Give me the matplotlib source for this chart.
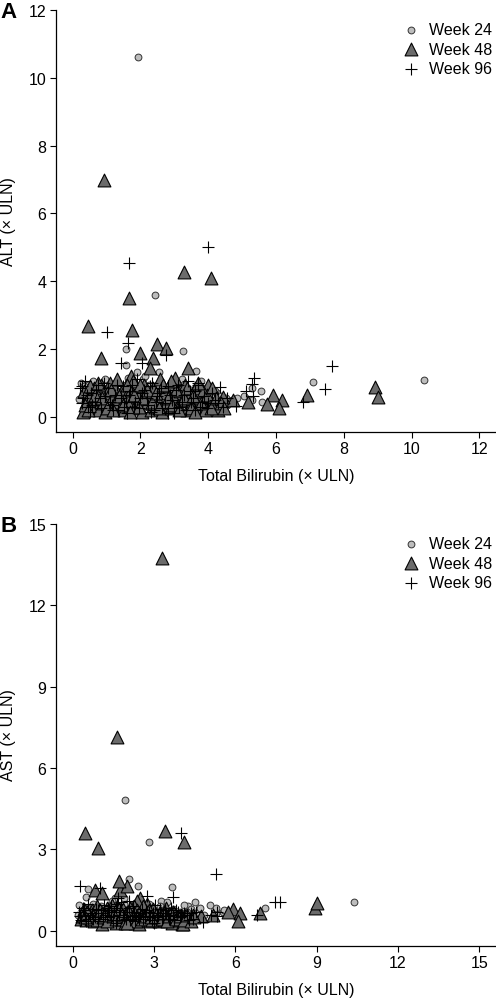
import matplotlib
matplotlib.use('Agg')
import matplotlib.pyplot as plt

plt.rcParams['font.family'] = ['Liberation Sans', 'DejaVu Sans']

# Week 24 (circles): bilirubin, ALT, AST (x ULN)
w24_bili = [1.93, 2.42, 1.57, 3.25, 1.57, 3.65, 2.54, 1.90, 2.83, 2.09, 0.56, 0.49,
            7.10, 10.37, 5.55, 5.28, 4.25, 4.52, 5.07, 5.30, 5.60,
            0.20, 0.25, 0.30, 0.38, 0.45, 0.52, 0.60, 0.68, 0.75, 0.82, 0.90, 0.98,
            1.05, 1.12, 1.20, 1.28, 1.35, 1.45, 1.55, 1.62, 1.70, 1.80, 1.88, 1.95,
            2.05, 2.15, 2.22, 2.32, 2.40, 2.50, 2.60, 2.70, 2.80, 2.90, 3.00, 3.12,
            3.22, 3.35, 3.48, 3.58, 3.70, 3.82, 3.95, 4.10, 4.35, 4.55,
            0.34, 0.64, 0.96, 1.25, 1.58, 1.92, 2.26, 2.65, 3.05, 3.42, 3.78, 4.20,
            4.70, 4.85]
w24_alt = [10.60, 3.58, 2.00, 1.94, 1.53, 1.35, 1.33, 1.33, 0.90, 1.10, 0.90, 0.80,
           1.04, 1.09, 0.77, 0.84, 0.71, 0.55, 0.60, 0.50, 0.45,
           0.52, 1.00, 0.70, 0.35, 0.95, 0.55, 1.05, 0.30, 0.75, 0.45, 0.85, 0.25,
           0.65, 0.40, 0.95, 0.60, 0.30, 0.80, 0.50, 1.15, 0.35, 0.70, 0.45, 0.90,
           0.55, 1.20, 0.30, 0.75, 0.50, 0.95, 0.35, 0.80, 0.55, 1.00, 0.40, 0.70,
           1.10, 0.50, 0.80, 0.30, 0.65, 0.45, 0.75, 0.40, 0.60, 0.35,
           0.90, 0.60, 1.10, 0.20, 0.95, 0.25, 0.95, 0.65, 0.95, 0.25, 1.05, 0.75,
           0.50, 0.55]
w24_ast = [4.83, 1.64, 1.00, 1.10, 1.20, 1.60, 0.90, 1.00, 3.28, 1.91, 1.53, 1.23,
           0.85, 1.06, 0.70, 0.65, 0.90, 1.05, 0.96, 0.85, 0.75,
           0.60, 0.95, 0.50, 0.75, 0.45, 0.85, 0.60, 0.40, 1.00, 0.55, 0.70, 0.50,
           0.90, 0.40, 0.65, 0.80, 0.55, 1.10, 0.45, 0.70, 0.90, 0.50, 1.20, 0.60,
           0.75, 0.45, 0.95, 0.65, 0.50, 0.85, 0.40, 0.70, 1.00, 0.55, 0.75, 0.45,
           0.90, 0.60, 1.05, 0.50, 0.80, 0.60, 0.70, 0.95, 0.80, 0.65,
           0.65, 0.50, 0.85, 0.60, 0.75, 0.55, 0.80, 0.60, 0.65, 0.80, 0.50, 0.70,
           0.85, 0.60]

# Week 48 (triangles)
w48_bili = [0.92, 3.29, 4.09, 1.65, 0.46, 1.74, 2.49, 2.75, 0.83, 1.99, 2.36, 3.41,
            2.27, 1.72, 1.09, 8.93, 9.00, 6.91, 5.92, 6.19, 6.10, 5.73, 5.17, 4.00,
            4.74, 4.44,
            0.32, 0.35, 0.40, 0.48, 0.55, 0.62, 0.70, 0.78, 0.85, 0.90, 0.95, 1.02,
            1.08, 1.15, 1.22, 1.28, 1.32, 1.40, 1.45, 1.52, 1.58, 1.66, 1.72, 1.78,
            1.85, 1.92, 1.98, 2.05, 2.12, 2.18, 2.25, 2.30, 2.38, 2.44, 2.50, 2.58,
            2.63, 2.70, 2.76, 2.84, 2.90, 2.97, 3.03, 3.10, 3.18, 3.24, 3.32, 3.38,
            3.45, 3.52, 3.60, 3.68, 3.75, 3.84, 3.92, 4.05, 4.15, 4.30, 4.08,
            0.38, 0.52, 0.66, 0.74, 0.88, 1.00, 1.12, 1.25, 1.36, 1.48, 1.60, 1.70,
            1.82, 1.95, 2.08, 2.20, 2.34, 2.46, 2.55, 2.68, 2.80, 2.93, 3.06, 3.14,
            3.28, 3.36, 3.48, 3.56, 3.70, 3.80, 3.96, 4.10, 4.22, 4.38, 0.45, 1.18,
            2.00, 2.90, 3.62, 4.48]
w48_alt = [7.00, 4.28, 4.10, 3.51, 2.67, 2.56, 2.15, 2.04, 1.73, 1.89, 1.73, 1.43,
           1.45, 1.20, 1.00, 0.89, 0.57, 0.65, 0.65, 0.49, 0.26, 0.37, 0.45, 0.94,
           0.50, 0.57,
           0.15, 0.75, 0.45, 0.60, 0.30, 0.85, 0.50, 0.20, 0.95, 0.40, 0.15, 0.70,
           0.30, 0.55, 0.90, 0.25, 1.10, 0.45, 0.75, 0.20, 0.60, 0.35, 0.80, 1.05,
           0.25, 0.50, 0.70, 0.15, 0.95, 0.40, 0.65, 0.20, 0.85, 0.30, 0.55, 1.10,
           0.15, 0.70, 0.40, 0.90, 0.25, 0.60, 1.15, 0.35, 0.75, 0.50, 0.95, 0.20,
           0.65, 0.40, 0.85, 0.30, 0.55, 0.75, 0.20, 0.45, 0.35, 0.20, 0.25,
           0.35, 0.90, 0.65, 1.00, 0.55, 0.25, 0.80, 0.45, 0.60, 0.35, 0.95, 0.15,
           0.65, 0.30, 0.55, 0.80, 0.45, 0.70, 0.25, 0.95, 0.55, 0.35, 0.80, 0.20,
           0.55, 0.85, 0.25, 0.60, 1.00, 0.40, 0.65, 0.85, 0.55, 0.40, 0.20, 0.20,
           0.95, 1.05, 0.15, 0.25]
w48_ast = [3.05, 13.74, 3.28, 7.13, 3.59, 1.50, 1.20, 1.00, 1.50, 1.66, 1.10, 3.68,
           0.90, 1.85, 1.39, 0.83, 1.02, 0.65, 0.80, 0.64, 0.37, 0.70, 0.60, 0.60,
           0.55, 0.60,
           0.45, 0.55, 0.80, 0.40, 0.65, 0.50, 0.75, 0.35, 0.60, 0.90, 0.45, 0.55,
           0.25, 0.70, 0.45, 0.85, 0.60, 0.40, 0.95, 0.50, 0.30, 0.70, 0.55, 0.45,
           0.80, 0.30, 0.65, 0.50, 0.85, 0.40, 0.60, 0.30, 0.75, 0.25, 0.50, 0.90,
           0.55, 0.40, 0.70, 0.35, 0.60, 0.80, 0.45, 0.55, 0.35, 0.70, 0.50, 0.40,
           0.85, 0.60, 0.45, 0.30, 0.65, 0.50, 0.40, 0.25, 0.55, 0.45, 0.25,
           0.60, 0.70, 0.45, 0.55, 0.40, 0.75, 0.50, 0.35, 0.65, 0.55, 0.45, 0.80,
           0.60, 0.40, 0.70, 0.50, 0.35, 0.65, 0.45, 0.55, 0.75, 0.40, 0.60, 0.50,
           0.45, 0.65, 0.35, 0.55, 0.70, 0.45, 0.55, 0.40, 0.60, 0.35, 0.50, 0.60,
           0.30, 0.50, 0.65, 0.50]

# Week 96 (crosses)
w96_bili = [4.00, 1.67, 1.01, 1.64, 2.75, 1.42, 2.06, 7.64, 7.45, 6.81, 5.34, 5.28,
            5.11, 5.33, 4.35, 4.81, 0.27, 3.69, 3.60, 2.80,
            0.22, 0.30, 0.38, 0.45, 0.55, 0.65, 0.75, 0.85, 0.95, 1.05, 1.15, 1.25,
            1.35, 1.48, 1.58, 1.70, 1.80, 1.90, 2.00, 2.12, 2.22, 2.35, 2.45, 2.55,
            2.65, 2.80, 2.92, 3.05, 3.15, 3.28, 3.40, 3.50, 3.62, 3.75, 3.88, 4.00,
            4.20, 4.45,
            0.28, 0.42, 0.58, 0.70, 0.82, 0.92, 1.10, 1.20, 1.30, 1.42, 1.52, 1.65,
            1.75, 1.85, 1.96, 2.06, 2.18, 2.28, 2.40, 2.50, 2.60, 2.72, 2.86, 2.98,
            3.10, 3.22, 3.34, 3.45, 3.56, 3.70, 3.82, 3.95, 4.10, 4.30, 4.55, 0.50,
            1.60, 2.30, 3.00]
w96_alt = [5.00, 4.53, 2.49, 2.17, 1.82, 1.60, 1.60, 1.50, 0.81, 0.44, 1.13, 0.96,
           0.77, 0.62, 0.87, 0.33, 0.90, 1.00, 0.20, 0.12,
           0.85, 0.55, 1.05, 0.30, 0.70, 0.45, 0.95, 0.25, 0.60, 0.85, 0.35, 0.65,
           0.20, 0.90, 0.45, 0.75, 0.30, 1.10, 0.55, 0.80, 0.35, 1.00, 0.45, 0.70,
           0.25, 0.90, 0.50, 0.80, 0.30, 0.65, 1.05, 0.45, 0.75, 0.30, 0.60, 0.40,
           0.50, 0.30,
           0.40, 0.65, 0.35, 0.80, 0.55, 1.00, 0.45, 0.20, 0.95, 0.55, 0.30, 0.65,
           0.95, 0.45, 0.25, 0.70, 0.55, 0.90, 0.20, 0.60, 0.85, 0.40, 0.65, 0.25,
           0.95, 0.45, 0.20, 0.75, 0.55, 0.95, 0.45, 0.25, 0.70, 0.40, 0.55, 0.15,
           0.10, 0.15, 0.10]
w96_ast = [3.59, 1.20, 1.56, 1.00, 1.30, 0.90, 1.10, 1.07, 1.07, 0.60, 0.70, 2.08,
           0.60, 0.55, 0.65, 0.33, 1.64, 1.23, 0.45, 0.50,
           0.70, 0.40, 0.85, 0.55, 1.00, 0.60, 0.45, 0.80, 0.35, 0.65, 0.95, 0.50,
           0.75, 0.40, 0.85, 0.60, 1.05, 0.50, 0.70, 0.40, 0.90, 0.60, 0.45, 0.80,
           0.55, 0.70, 0.40, 0.95, 0.60, 0.45, 0.75, 0.55, 0.85, 0.40, 0.70, 0.55,
           0.60, 0.45,
           0.55, 0.75, 0.45, 0.65, 0.50, 0.75, 0.45, 0.60, 0.85, 0.55, 0.70, 0.40,
           0.75, 0.60, 0.45, 0.85, 0.55, 0.70, 0.50, 0.65, 0.45, 0.75, 0.55, 0.65,
           0.50, 0.80, 0.55, 0.65, 0.45, 0.60, 0.75, 0.50, 0.65, 0.40, 0.70, 0.35,
           0.30, 0.35, 0.30]

labels = ['Week 24', 'Week 48', 'Week 96']

fig = plt.figure(figsize=(4.96, 10.03), dpi=100)


def panel(rect, ycol, ylabel, xlim, ylim, ticks, letter):
    ax = fig.add_axes(rect)
    ax.scatter(w24_bili, ycol[0], s=24, marker='o', facecolor='#bdbdbd',
               edgecolor='#333333', linewidths=0.7, label=labels[0], zorder=2)
    ax.scatter(w48_bili, ycol[1], s=85, marker='^', facecolor='#6b6b6b',
               edgecolor='black', linewidths=0.8, label=labels[1], zorder=3)
    ax.scatter(w96_bili, ycol[2], s=80, marker='+', color='black',
               linewidths=0.8, label=labels[2], zorder=4)
    ax.set_xlim(*xlim)
    ax.set_ylim(*ylim)
    ax.set_xticks(ticks)
    ax.set_yticks(ticks)
    ax.spines['top'].set_visible(False)
    ax.spines['right'].set_visible(False)
    for s in ['left', 'bottom']:
        ax.spines[s].set_linewidth(0.9)
    ax.spines['left'].set_bounds(ylim[0], ticks[-1])
    ax.tick_params(direction='out', length=4, width=0.8, labelsize=11.5, pad=3)
    ax.set_xlabel('Total Bilirubin (× ULN)', fontsize=11.5, labelpad=8)
    ax.set_ylabel(ylabel, fontsize=11.5, va='center')
    ax.yaxis.set_label_coords(-0.107, 0.5)
    ax.legend(loc='upper right', frameon=False, fontsize=11.5, handletextpad=0.15,
              labelspacing=0.3, borderaxespad=0.0, bbox_to_anchor=(1.007, 0.985),
              scatterpoints=1)
    fig.text(0.0, rect[1] + rect[3] - 0.002, letter, fontsize=16,
             fontweight='bold', ha='left', va='center')
    return ax


panel([56 / 496, 1 - 432.7 / 1003, 440 / 496, 422.7 / 1003],
      [w24_alt, w48_alt, w96_alt], 'ALT (× ULN)',
      (-0.49, 12.49), (-0.44, 12.03), [0, 2, 4, 6, 8, 10, 12], 'A')
panel([56 / 496, 1 - 946.7 / 1003, 440 / 496, 422.7 / 1003],
      [w24_ast, w48_ast, w96_ast], 'AST (× ULN)',
      (-0.616, 15.62), (-0.55, 15.04), [0, 3, 6, 9, 12, 15], 'B')

plt.savefig('out.png', dpi=100)
plt.close()
